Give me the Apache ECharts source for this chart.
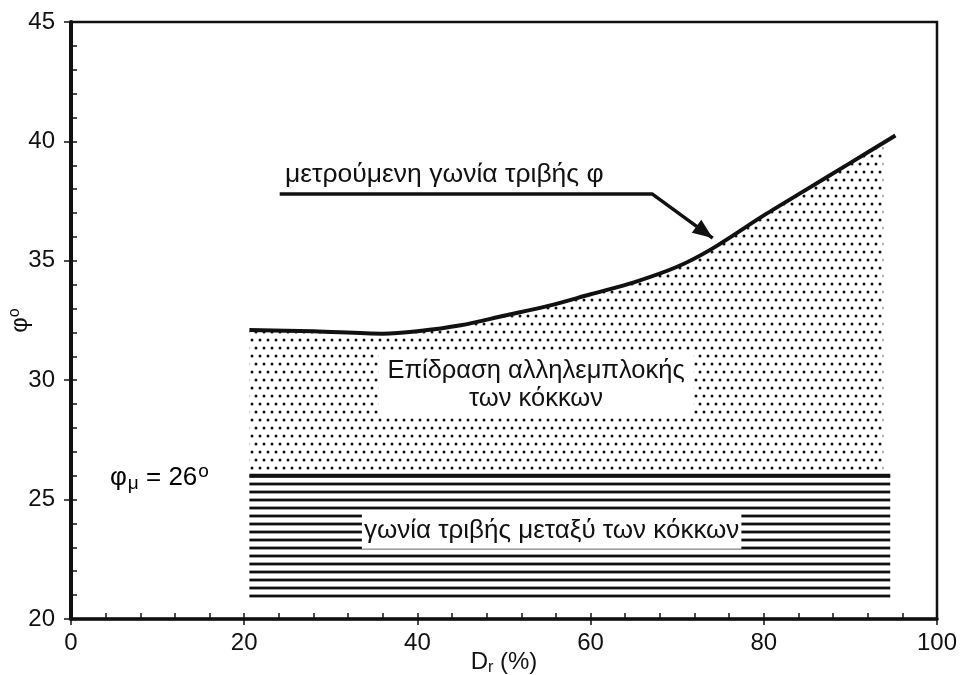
<!DOCTYPE html>
<html><head><meta charset="utf-8">
<script src="https://cdn.jsdelivr.net/npm/echarts@6/dist/echarts.min.js"></script>
<style>html,body{margin:0;padding:0;background:#fff}#c{width:960px;height:675px}</style>
</head><body><div id="c"></div>
<script>
// ---- data ----
const xTicks = [0, 20, 40, 60, 80, 100];
const yTicks = [20, 25, 30, 35, 40, 45];
const measuredX   = [20.6, 28, 36, 40, 45, 50, 55, 60, 65, 70, 74, 80, 85, 90, 95.2];
const measuredPhi = [32.1, 32.05, 31.95, 32.05, 32.3, 32.7, 33.1, 33.6, 34.1, 34.75, 35.5, 36.9, 38.0, 39.1, 40.25];
const interlockX   = [20.6, 28, 36, 40, 45, 50, 55, 60, 65, 70, 74, 80, 85, 90, 93.8];
const interlockPhi = [32.1, 32.05, 31.95, 32.05, 32.3, 32.7, 33.1, 33.6, 34.1, 34.75, 35.5, 36.9, 38.0, 39.1, 39.95];
const phiMu = 26;
const grainX = [20.6, 94.6];
const grainBottom = 20.85;
const arrowPath = [[24.1, 37.8], [67.1, 37.8], [74.1, 35.95]];
const txtMeasured = 'μετρούμενη γωνία τριβής φ';
const txtInterlock = ['Επίδραση αλληλεμπλοκής', 'των κόκκων'];
const txtGrain = 'γωνία τριβής μεταξύ των κόκκων';

// ---- styles ----
const FONT = 'Liberation Sans, Arial, Helvetica, sans-serif';
const INK = '#111';

function dotPattern() {
  const c = document.createElement('canvas'); c.width = 16; c.height = 16;
  const g = c.getContext('2d'); g.fillStyle = '#fff'; g.fillRect(0,0,16,16);
  g.fillStyle = '#111';
  [[4,4],[12,4],[0,12],[8,12],[16,12]].forEach(p => { g.beginPath(); g.arc(p[0], p[1], 1.5, 0, Math.PI*2); g.fill(); });
  return c;
}
function hatchPattern() {
  const c = document.createElement('canvas'); c.width = 8; c.height = 8;
  const g = c.getContext('2d'); g.fillStyle = '#fff'; g.fillRect(0,0,8,8);
  g.fillStyle = '#111'; g.fillRect(0, 2.6, 8, 2.8);
  return c;
}

const chart = echarts.init(document.getElementById('c'), null, {renderer: 'canvas'});
const zip = (xs, ys) => xs.map((x, i) => [x, ys[i]]);

const baseAxisLabel = {fontSize: 24, color: INK, fontFamily: FONT};
chart.setOption({
  animation: false,
  backgroundColor: '#fff',
  grid: {left: 71, right: 23, top: 22, bottom: 56, show: true, borderColor: INK, borderWidth: 2.5,
         backgroundColor: 'transparent', containLabel: false, outerBoundsMode: 'none'},
  xAxis: [
    {type: 'value', min: xTicks[0], max: xTicks[xTicks.length-1], interval: 20, position: 'bottom',
     axisLine: {show: true, onZero: false, lineStyle: {color: INK, width: 3.5}},
     axisTick: {show: true, inside: false, length: 6, lineStyle: {color: INK, width: 1.5}},
     splitLine: {show: false},
     axisLabel: Object.assign({margin: 12}, baseAxisLabel),
     name: 'D{sub|r} (%)', nameLocation: 'middle', nameGap: 29, nameMoveOverlap: false,
     nameTextStyle: {fontSize: 24, color: INK, fontFamily: FONT,
       rich: {sub: {fontSize: 16, color: INK, fontFamily: FONT, verticalAlign: 'bottom', padding: [12,0,0,0]}}}},
    {type: 'value', min: 0, max: 100, interval: 4, position: 'bottom',
     axisLine: {show: false}, axisTick: {show: true, inside: true, length: 6, lineStyle: {color: INK, width: 1.5}},
     axisLabel: {show: false}, splitLine: {show: false}}
  ],
  yAxis: [
    {type: 'value', min: yTicks[0], max: yTicks[yTicks.length-1], interval: 5, position: 'left',
     axisLine: {show: true, onZero: false, lineStyle: {color: INK, width: 4}},
     axisTick: {show: true, inside: false, length: 7, lineStyle: {color: INK, width: 1.5}},
     splitLine: {show: false},
     axisLabel: Object.assign({margin: 16}, baseAxisLabel),
     name: 'φ{sup|o}', nameLocation: 'middle', nameGap: 38, nameRotate: 90, nameMoveOverlap: false,
     nameTextStyle: {fontSize: 24, color: INK, fontFamily: FONT,
       rich: {sup: {fontSize: 16, color: INK, fontFamily: FONT, verticalAlign: 'top', padding: [0,0,10,0]}}}},
    {type: 'value', min: 20, max: 45, interval: 1, position: 'left',
     axisLine: {show: false}, axisTick: {show: true, inside: true, length: 6, lineStyle: {color: INK, width: 1.5}},
     axisLabel: {show: false}, splitLine: {show: false}}
  ],
  series: [
    {type: 'line', name: 'interlock', data: zip(interlockX, interlockPhi), symbol: 'none', smooth: false,
     lineStyle: {width: 0}, areaStyle: {origin: phiMu, opacity: 1, color: {image: dotPattern(), repeat: 'repeat'}}, z: 2},
    {type: 'line', name: 'grain', data: grainX.map(x => [x, phiMu]), symbol: 'none',
     lineStyle: {width: 4, color: INK}, areaStyle: {origin: grainBottom, opacity: 1, color: {image: hatchPattern(), repeat: 'repeat'}}, z: 3},
    {type: 'line', name: 'measured', data: zip(measuredX, measuredPhi), symbol: 'none', smooth: 0.3,
     lineStyle: {width: 4, color: INK}, z: 4},
    {type: 'line', name: 'arrow', data: arrowPath, symbol: 'none', lineStyle: {width: 3.5, color: INK}, z: 5}
  ]
});

const P = (x, y) => chart.convertToPixel({xAxisIndex: 0, yAxisIndex: 0}, [x, y]);
const a1 = P(arrowPath[1][0], arrowPath[1][1]), a2 = P(arrowPath[2][0], arrowPath[2][1]);
const ang = Math.atan2(a2[1]-a1[1], a2[0]-a1[0]);
const L = 20, W = 8;
const head = [a2,
  [a2[0] - L*Math.cos(ang) + W*Math.sin(ang), a2[1] - L*Math.sin(ang) - W*Math.cos(ang)],
  [a2[0] - L*Math.cos(ang) - W*Math.sin(ang), a2[1] - L*Math.sin(ang) + W*Math.cos(ang)]];

const pMeasured = P(24.7, 38.6);
const pInter = P(53.7, 29.8);
const pGrain = P(55.5, 23.7);
const pMu = P(4.5, 25.9);

chart.setOption({
  graphic: [
    {type: 'polygon', shape: {points: head}, style: {fill: INK}, z: 10},
    {type: 'text', x: pMeasured[0], y: pMeasured[1], z: 10,
     style: {text: txtMeasured, align: 'left', verticalAlign: 'middle', font: '26.5px ' + FONT, fill: INK}},
    {type: 'text', x: pInter[0], y: pInter[1], z: 10,
     style: {text: txtInterlock.join('\n'), align: 'center', verticalAlign: 'middle', lineHeight: 28,
       font: '25.5px ' + FONT, fill: INK, backgroundColor: '#fff', padding: [5, 9, 5, 9]}},
    {type: 'text', x: pGrain[0], y: pGrain[1], z: 10,
     style: {text: txtGrain, align: 'center', verticalAlign: 'middle', lineHeight: 32,
       font: '26px ' + FONT, fill: INK, backgroundColor: '#fff', padding: [2, 2, 2, 2]}},
    {type: 'text', x: pMu[0], y: pMu[1], z: 10,
     style: {text: '{b|φ}{s|μ}{b| = 26}{u|o}', verticalAlign: 'middle', align: 'left',
       rich: {b: {fontSize: 26, fontFamily: FONT, color: INK},
              s: {fontSize: 19, fontFamily: FONT, color: INK, padding: [12,0,0,1]},
              u: {fontSize: 19, fontFamily: FONT, color: INK, padding: [0,0,12,1]}}}}
  ]
});
</script></body></html>
